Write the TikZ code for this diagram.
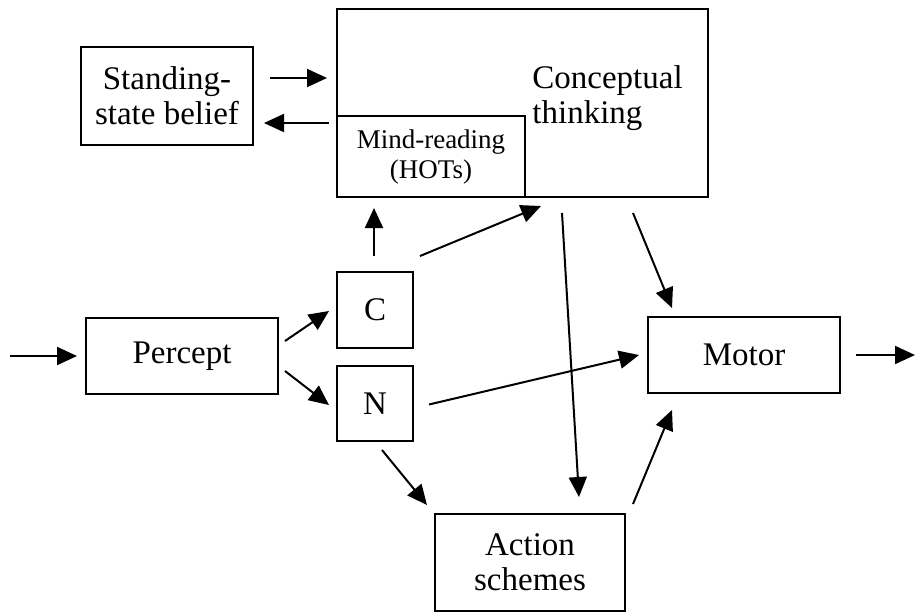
\documentclass[tikz,border=0pt]{standalone}
\usepackage{fontspec}
\setmainfont{Liberation Serif}
\usetikzlibrary{arrows.meta,positioning,calc}

\begin{document}
\begin{tikzpicture}[
    x=0.5pt, y=-0.5pt,
    box/.style={rectangle, draw, line width=1pt, inner sep=0pt, align=center, font=\fontsize{16.5}{17.5}\selectfont},
    small/.style={font=\fontsize{13.5}{15}\selectfont},
    arr/.style={line width=1pt, -{Triangle[length=10pt,width=9pt]}}
]
    \useasboundingbox (0,0) rectangle (915,612);

    % Boxes
    \node[box, minimum width=86pt, minimum height=49pt] (belief) at (167,96) {Standing-\\state belief};
    \node[box, minimum width=185.5pt, minimum height=94pt] (concept) at (522.5,103) {};
    \node[box, small, minimum width=94pt, minimum height=40.5pt, anchor=south west] (mind) at (concept.south west) {Mind-reading\\(HOTs)};
    \node[align=left, inner sep=0pt, anchor=west, font=\fontsize{16.5}{17.5}\selectfont] (concepttxt) at (532,98) {Conceptual\\thinking};

    \node[box, minimum width=96pt, minimum height=38pt] (percept) at (182,356) {Percept};
    \node[box, minimum width=38pt, minimum height=38pt] (C) at (375,310) {C};
    \node[box, minimum width=38pt, minimum height=37.5pt, below=8pt of C] (N) {N};
    \node[box, minimum width=96pt, minimum height=38pt] (motor) at (744,355) {Motor};
    \node[box, minimum width=95pt, minimum height=48.5pt] (action) at (530,562.5) {Action\\schemes};

    % Free ends
    \coordinate (in) at (10,356);
    \coordinate (out) at (915,355);

    % Arrows
    \draw[arr] (in) -- ($(percept.west)+(-8,0)$);
    \draw[arr] ($(motor.east)+(15,0)$) -- (out);
    \draw[arr] ($(belief.east)+(16,-18)$) -- ($(belief.east -| concept.west)+(-9,-18)$);
    \draw[arr] ($(mind.west |- belief.east)+(-7,27)$) -- ($(belief.east)+(10,27)$);
    \draw[arr] ($(C.north)+(-1,-15)$) -- ($(C.north |- mind.south)+(-1,10)$);
    \draw[arr] ($(C.north east)+(6,-15)$) -- ($(mind.south east)+(15,8)$);
    \draw[arr] ($(percept.east)+(6,-15)$) -- ($(C.west)+(-7,1)$);
    \draw[arr] ($(percept.east)+(6,15)$) -- ($(N.west)+(-7,1.5)$);
    \draw[arr] ($(N.east)+(15,1)$) -- ($(motor.west)+(-8,0)$);
    \draw[arr] ($(N.south)+(7,8)$) -- ($(action.north west)+(-7,-8)$);
    \draw[arr] ($(concept.south)+(39.5,15)$) -- ($(action.north)+(49,-16)$);
    \draw[arr] ($(concept.south east)+(-76,15)$) -- ($(motor.north)+(-72,-8)$);
    \draw[arr] ($(action.north east)+(7,-9)$) -- ($(motor.south)+(-72,16)$);
\end{tikzpicture}
\end{document}
